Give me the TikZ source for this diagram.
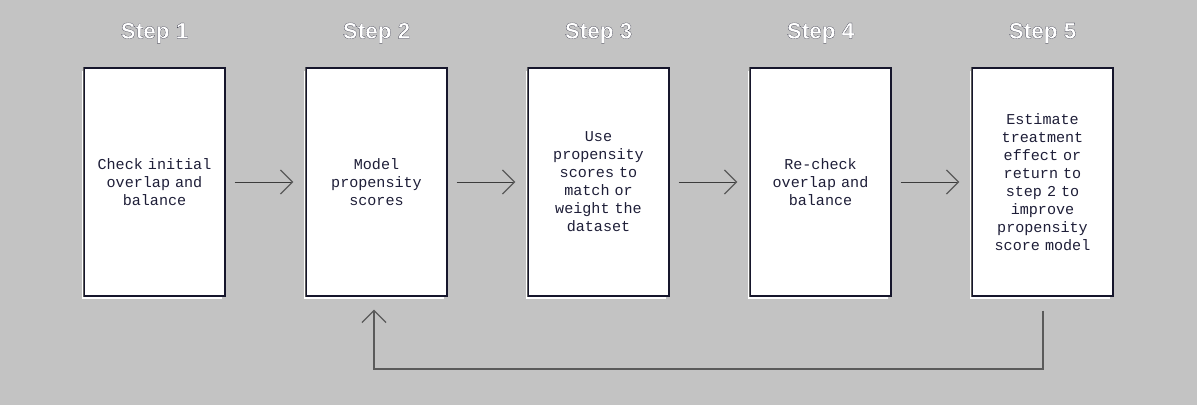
\documentclass[tikz,border=0pt]{standalone}
\usepackage{fontspec}
\setmainfont{Liberation Sans}
\newfontfamily\bodymono{Liberation Mono}[WordSpace={1,0,0}]
\newfontfamily\labelfont{Liberation Sans}[FakeBold=0.6]
\usetikzlibrary{arrows.meta}
\definecolor{bg}{HTML}{C3C3C3}
\definecolor{ink}{HTML}{1E1E38}
\definecolor{edge}{HTML}{16162C}
\definecolor{arrowgray}{HTML}{3C3C3C}
\definecolor{headgray}{HTML}{5A5A5A}
\newcommand{\monosize}{\bodymono\fontsize{15.1}{18}\selectfont\fontdimen2\font=9.06pt\fontdimen3\font=0pt\fontdimen4\font=0pt\relax}
\tikzset{
  stepbox/.style={draw=edge, line width=1.3pt, fill=white, minimum width=141pt, minimum height=228pt, inner sep=0pt, align=center, text width=132pt, font=\monosize, text=ink},
  steplabel/.style={font=\labelfont\bfseries\fontsize{22.5}{26}\selectfont, text=white, inner sep=0pt},
  flow/.style={draw=arrowgray, line width=1pt, -{Straight Barb[length=12pt,width=24pt,line width=1.3pt,color=headgray]}},
  back/.style={draw=headgray, line width=1.3pt, -{Straight Barb[length=12pt,width=24pt,line width=1.3pt,color=headgray]}}
}
\newcommand{\outl}[1]{\special{pdf:code 0.06 0.06 0.14 RG}#1}
\begin{document}
\begin{tikzpicture}[x=1pt,y=-1pt]
\fill[bg] (0,0) rectangle (1197,405);
\useasboundingbox (0,0) rectangle (1197,405);
% shadows
\foreach \cx in {154.5,376.5,598.5,820.5,1042.5}{
  \fill[white] (\cx-72.5,71) rectangle (\cx+67.5,299);
}
\node[stepbox] (b1) at (154.5,182) {Check initial\\overlap and\\balance};
\node[stepbox] (b2) at (376.5,182) {Model\\propensity\\scores};
\node[stepbox] (b3) at (598.5,182) {Use\\propensity\\scores to\\match or\\weight the\\dataset};
\node[stepbox] (b4) at (820.5,182) {Re-check\\overlap and\\balance};
\node[stepbox] (b5) at (1042.5,182) {Estimate\\treatment\\effect or\\return to\\step 2 to\\improve\\propensity\\score model};
\foreach \b in {b1,b2,b3,b4,b5}{
  \draw[draw=headgray, line width=1.3pt] (\b.north west) -- (\b.south west);
}
\node[steplabel] (s1) at (154.5,33) {\outl{Step 1}};
\node[steplabel] (s2) at (376.5,33) {\outl{Step 2}};
\node[steplabel] (s3) at (598.5,33) {\outl{Step 3}};
\node[steplabel] (s4) at (820.5,33) {\outl{Step 4}};
\node[steplabel] (s5) at (1042.5,33) {\outl{Step 5}};
\draw[flow] ([xshift=9pt]b1.east) -- ([xshift=-12pt]b2.west);
\draw[flow] ([xshift=9pt]b2.east) -- ([xshift=-12pt]b3.west);
\draw[flow] ([xshift=9pt]b3.east) -- ([xshift=-12pt]b4.west);
\draw[flow] ([xshift=9pt]b4.east) -- ([xshift=-12pt]b5.west);
\coordinate (fbstart) at ([xshift=0.5pt,yshift=-14pt]b5.south);
\coordinate (fbend) at ([xshift=-2.5pt,yshift=-13pt]b2.south);
\coordinate (fbcorner) at (fbstart |- 0,369);
\draw[back] (fbstart) -- (fbcorner) -| (fbend);
\end{tikzpicture}
\end{document}
